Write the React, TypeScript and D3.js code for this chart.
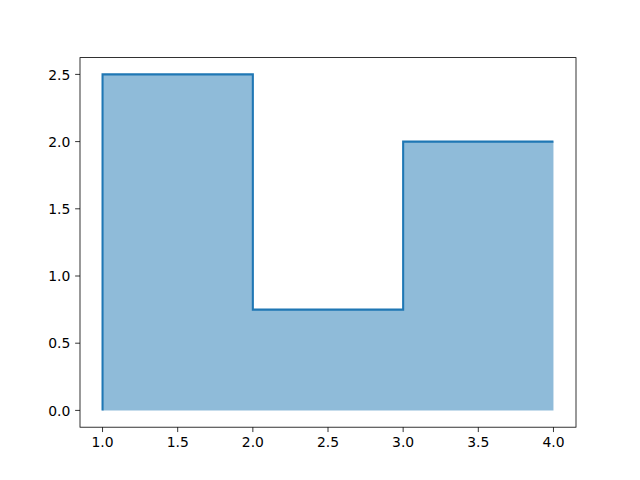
import React from "react";
import * as d3 from "d3";

const edges = [1, 2, 3, 4];
const values = [2.5, 0.75, 2];
const xTicks = [1.0, 1.5, 2.0, 2.5, 3.0, 3.5, 4.0];
const yTicks = [0.0, 0.5, 1.0, 1.5, 2.0, 2.5];

const W = 640, H = 480;
const L = 80, R = 576, T = 57.6, B = 427.2;

export default function App() {
  const x = d3.scaleLinear().domain([0.85, 4.15]).range([L, R]);
  const y = d3.scaleLinear().domain([-0.125, 2.625]).range([B, T]);

  const pts: [number, number][] = [[edges[0], 0]];
  values.forEach((v, i) => {
    pts.push([edges[i], v]);
    pts.push([edges[i + 1], v]);
  });
  const line = d3.line<[number, number]>().x(d => x(d[0])).y(d => y(d[1]));
  const fillPts: [number, number][] = [...pts, [edges[edges.length - 1], 0]];
  const fillPath = line(fillPts) + "Z";

  return (
    <svg width={W} height={H} style={{ position: "absolute", left: 0, top: 0, background: "#fff" }}
      fontFamily="DejaVu Sans" fontSize={13.9}>
      <rect x={0} y={0} width={W} height={H} fill="#fff" />
      <path d={fillPath} fill="#1f77b4" fillOpacity={0.5} stroke="none" />
      <path d={line(pts) || ""} fill="none" stroke="#1f77b4" strokeWidth={2.08} strokeLinejoin="miter" strokeLinecap="butt" />
      <rect x={L} y={T} width={R - L} height={B - T} fill="none" stroke="#000" strokeWidth={0.8} />
      {xTicks.map(t => (
        <g key={"x" + t}>
          <line x1={x(t)} x2={x(t)} y1={B} y2={B + 4.86} stroke="#000" strokeWidth={0.8} />
          <text x={x(t)} y={B + 20} textAnchor="middle" fill="#000">{t.toFixed(1)}</text>
        </g>
      ))}
      {yTicks.map(t => (
        <g key={"y" + t}>
          <line x1={L - 4.86} x2={L} y1={y(t)} y2={y(t)} stroke="#000" strokeWidth={0.8} />
          <text x={L - 9.7} y={y(t) + 5.2} textAnchor="end" fill="#000">{t.toFixed(1)}</text>
        </g>
      ))}
    </svg>
  );
}
